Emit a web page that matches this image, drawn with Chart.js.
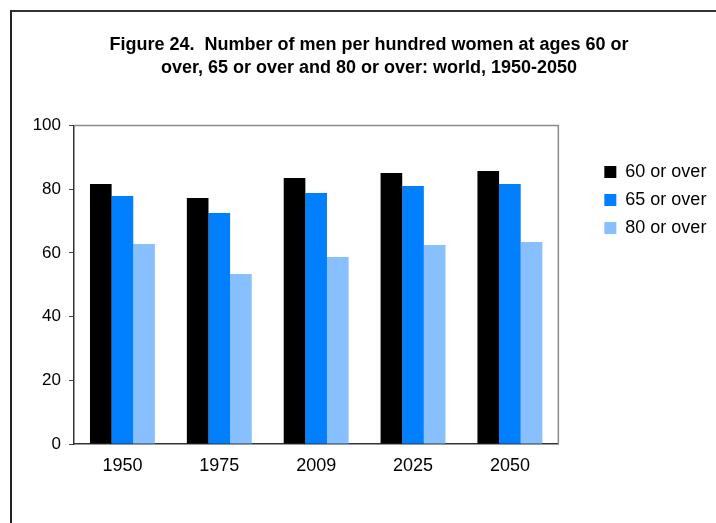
<!DOCTYPE html>
<html>
<head>
<meta charset="utf-8">
<script src="https://cdn.jsdelivr.net/npm/chart.js@4.4.1/dist/chart.umd.min.js"></script>
<style>
  html, body { margin: 0; padding: 0; background: #fff; }
  #wrap { position: relative; width: 716px; height: 523px; overflow: hidden; }
  #frame { position: absolute; left: 10px; top: 10px; width: 800px; height: 600px;
           border-left: 2px solid #222; border-top: 2px solid #333; }
  canvas { position: absolute; left: 0; top: 0; }
</style>
</head>
<body>
<div id="wrap">
  <div id="frame"></div>
  <canvas id="chart" width="716" height="523"></canvas>
</div>
<script>
const years = ['1950', '1975', '2009', '2025', '2050'];
const over60 = [81.6, 77.2, 83.5, 85.1, 85.7];
const over65 = [77.9, 72.5, 78.8, 81.0, 81.6];
const over80 = [62.8, 53.4, 58.7, 62.5, 63.4];
const seriesNames = ['60 or over', '65 or over', '80 or over'];
const titleLines = [
    'Figure 24.  Number of men per hundred women at ages 60 or',
    'over, 65 or over and 80 or over: world, 1950-2050'
];

const fontFamily = '"Liberation Sans", Arial, sans-serif';

// gray frame on top and right of the plot area
const plotFrame = {
    id: 'plotFrame',
    afterDraw(chart) {
        const { ctx, chartArea: a } = chart;
        ctx.save();
        ctx.strokeStyle = '#8a8a8a';
        ctx.lineWidth = 1.5;
        ctx.beginPath();
        ctx.moveTo(a.left, a.top);
        ctx.lineTo(a.right, a.top);
        ctx.lineTo(a.right, a.bottom);
        ctx.stroke();
        ctx.restore();
    }
};

new Chart(document.getElementById('chart'), {
    type: 'bar',
    data: {
        labels: years,
        datasets: [
            { label: seriesNames[0], data: over60, backgroundColor: '#000000' },
            { label: seriesNames[1], data: over65, backgroundColor: '#0080ff' },
            { label: seriesNames[2], data: over80, backgroundColor: '#88c0ff' }
        ]
    },
    options: {
        responsive: false,
        animation: false,
        devicePixelRatio: 1,
        layout: { padding: { left: 31, right: 9, top: 0, bottom: 39 } },
        datasets: { bar: { categoryPercentage: 0.67, barPercentage: 1.0 } },
        plugins: {
            title: {
                display: true,
                text: titleLines,
                color: '#000',
                font: { family: fontFamily, size: 18, weight: 'bold', lineHeight: 1.3 },
                padding: { top: 33, bottom: 45.7 }
            },
            legend: {
                position: 'right',
                align: 'start',
                fullSize: false,
                title: { display: true, text: '', font: { size: 10, lineHeight: 1 }, padding: { top: 17.5, bottom: 0 } },
                labels: {
                    boxWidth: 12,
                    boxHeight: 12,
                    padding: 10,
                    color: '#000',
                    font: { family: fontFamily, size: 18 }
                }
            },
            tooltip: { enabled: false }
        },
        scales: {
            x: {
                grid: { display: false, drawTicks: false },
                border: { display: true, color: '#333', width: 1.5 },
                ticks: { color: '#000', padding: 11, font: { family: fontFamily, size: 18 } },
                afterFit(scale) { scale.height = 40; }
            },
            y: {
                min: 0,
                max: 100,
                ticks: { stepSize: 20, color: '#000', padding: 8, font: { family: fontFamily, size: 17 } },
                grid: { drawOnChartArea: false, drawTicks: true, tickLength: 5, color: '#444' },
                border: { display: true, color: '#333', width: 1.5 },
                afterFit(scale) { scale.width = 43; }
            },
            y2: {
                position: 'right',
                display: true,
                ticks: { display: false },
                grid: { display: false },
                border: { display: false },
                afterFit(scale) { scale.width = 36; }
            }
        }
    },
    plugins: [plotFrame]
});
</script>
</body>
</html>
